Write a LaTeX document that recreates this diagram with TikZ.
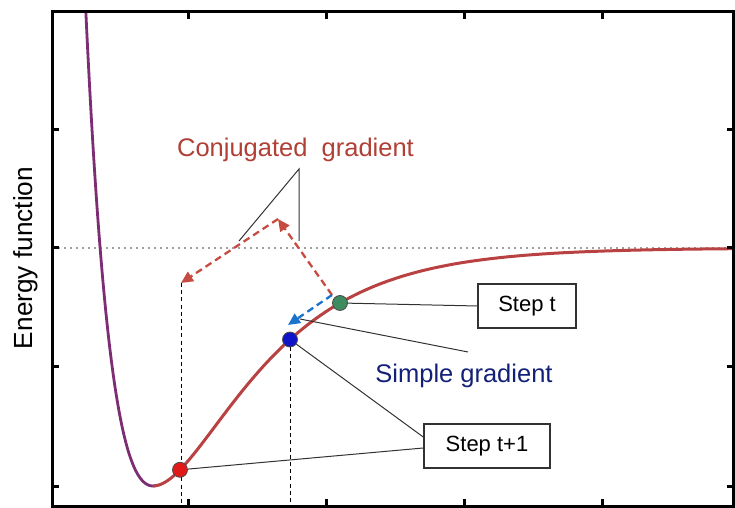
\documentclass[tikz,border=0pt]{standalone}
\usepackage{fontspec}
\setmainfont{Liberation Sans}
\usetikzlibrary{arrows.meta}

\definecolor{conjred}{RGB}{176,64,54}
\definecolor{simpleblue}{RGB}{18,32,120}
\definecolor{curvered}{RGB}{185,65,65}
\definecolor{curvepurple}{RGB}{125,45,115}
\definecolor{arrowred}{RGB}{200,75,65}
\definecolor{arrowblue}{RGB}{25,115,205}
\definecolor{ptred}{RGB}{225,25,25}
\definecolor{ptblue}{RGB}{15,20,200}
\definecolor{ptgreen}{RGB}{60,140,95}
\definecolor{leadgray}{RGB}{50,50,50}
\definecolor{dotgray}{RGB}{160,160,160}

\begin{document}
\begin{tikzpicture}[x=0.5pt, y=0.5pt,
  declare function={ul(\x)=22+238*(1-exp(-0.0131*(\x-153)))*(1-exp(-0.0131*(\x-153)));
                     ur(\x)=22+238*(1-exp(-0.0112*(\x-153)))*(1-exp(-0.0112*(\x-153)));},
  axis/.style={line width=1.5pt},
  stepbox/.style={draw=leadgray, line width=0.75pt, minimum height=22pt, inner sep=0pt, font=\fontsize{11}{13}\selectfont},
  leader/.style={draw=leadgray, line width=0.5pt},
  dropline/.style={line width=0.5pt, dash pattern=on 2pt off 1.6pt},
  movearrow/.style={line width=1.15pt, dash pattern=on 3.5pt off 2.2pt, -{Triangle[length=6pt,width=5.5pt]}},
  dot/.style={circle, draw=black!70, line width=0.4pt, minimum size=7.5pt, inner sep=0pt}]
\useasboundingbox (0,0) rectangle (735,508);
\draw[dotgray, line width=1pt, dash pattern=on 1.2pt off 1.8pt] (52,260) -- (733.5,260);
\draw[curvepurple, line width=1.4pt] plot[domain=85.8:158, samples=80, smooth] (\x,{ul(\x)});
\draw[curvered, line width=1.5pt] plot[domain=153:733, samples=120, smooth] (\x,{ur(\x)});
\draw[axis] (52,1.5) rectangle (733.5,496);
\foreach \t in {188,326,464,602} {
  \draw[axis] (\t,1.5) -- ++(0,7);
  \draw[axis] (\t,496) -- ++(0,-7);
}
\foreach \t in {21,141,260,378} {
  \draw[axis] (52,\t) -- ++(7,0);
  \draw[axis] (733.5,\t) -- ++(-7,0);
}
\node[rotate=90, font=\fontsize{13.1}{15}\selectfont] (energy) at (26,250) {Energy function};
\coordinate (turn) at (332,213);
\coordinate (peak) at (278,289);
\coordinate (land) at (181,225);
\coordinate (sgtip) at (288,183);
\coordinate (conjapex) at (299,339);
\coordinate (conjleft) at (239,267);
\coordinate (conjright) at (299,267);
\coordinate (sgstart) at (300,189);
\coordinate (sgend) at (468,156);
\draw[dropline] (land) -- (land |- 0,1.5);
\draw[dropline] (290,{ur(290)}) -- (290,1.5);
\node[dot, fill=ptred] (pred) at (180,{ur(180)}) {};
\node[dot, fill=ptblue] (pblue) at (290,{ur(290)}) {};
\node[dot, fill=ptgreen] (pgreen) at (340,{ur(340)}) {};
\draw[movearrow, arrowred] (turn) -- (peak);
\draw[movearrow, arrowred] (peak) -- (land);
\draw[movearrow, arrowblue] (turn) -- (sgtip);
\node[anchor=base, text=conjred, font=\fontsize{12.75}{15}\selectfont] (conj) at (295.5,351) {Conjugated\ \ gradient};
\node[anchor=base, text=simpleblue, font=\fontsize{12.75}{15}\selectfont] (simple) at (464,125) {Simple gradient};
\node[stepbox, minimum width=49pt] (stept) at (527,202) {Step t};
\node[stepbox, minimum width=63pt] (stepnext) at (487,62) {Step t+1};
\draw[leader] (conjleft) -- (conjapex) -- (conjright);
\draw[leader] (sgstart) -- (sgend);
\draw[leader] (pgreen) -- (stept.west);
\draw[leader] (pblue) -- ([yshift=4.5pt]stepnext.west);
\draw[leader] (pred) -- ([yshift=-1pt]stepnext.west);
\end{tikzpicture}
\end{document}
